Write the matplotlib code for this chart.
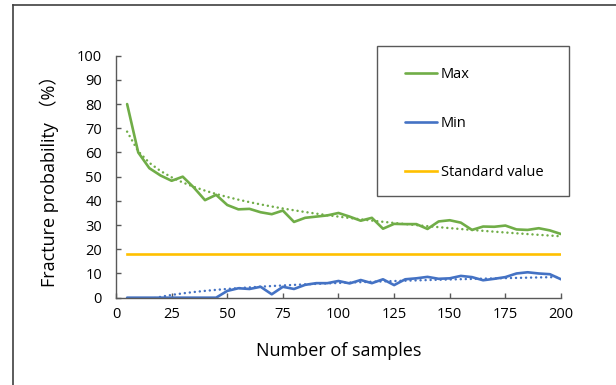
import matplotlib.pyplot as plt
import numpy as np
from matplotlib.lines import Line2D
from matplotlib.patches import Rectangle

plt.rcParams['font.family'] = ['Open Sans', 'Noto Sans CJK SC', 'DejaVu Sans']

samples = list(range(5, 201, 5))
max_prob = [80, 60, 53.5, 50.5, 48.3, 50, 45.5, 40.3, 42.5, 38.3,
            36.5, 36.7, 35.3, 34.5, 36, 31.3, 33, 33.5, 34, 35,
            33.5, 31.8, 33, 28.5, 30.5, 30.4, 30.4, 28.4, 31.5, 32,
            31, 28, 29.4, 29.3, 29.8, 28.2, 28, 28.7, 27.8, 26.3]
min_prob = [0, 0, 0, 0, 0, 0, 0, 0, 0, 2.8,
            3.9, 3.6, 4.5, 1.4, 4.5, 3.6, 5.3, 6, 6, 6.9,
            5.9, 7.3, 6, 7.6, 5.2, 7.6, 8, 8.6, 7.8, 8,
            9, 8.5, 7.2, 7.8, 8.5, 10, 10.5, 10, 9.7, 7.6]
standard_value = 18

GREEN = '#70AD47'
BLUE = '#4472C4'
ORANGE = '#FFC000'
AXIS = '#595959'

x = np.array(samples, dtype=float)

# logarithmic trendlines, fitted to the data like Excel does
def log_trend(y):
    b, a = np.polyfit(np.log(x), np.array(y, dtype=float), 1)
    return a + b * np.log(x)

fig = plt.figure(figsize=(6.16, 3.85), dpi=100)
ax = fig.add_axes([0.1883, 0.2268, 0.7224, 0.6286])

ax.plot(x, max_prob, color=GREEN, lw=1.9, label='Max', solid_capstyle='round')
ax.plot(x, min_prob, color=BLUE, lw=1.9, label='Min', solid_capstyle='round')
ax.plot([x[0], x[-1]], [standard_value, standard_value], color=ORANGE, lw=1.9,
        label='Standard value')
ax.plot(x, log_trend(max_prob), color=GREEN, lw=1.8, ls=(0, (0.01, 2.0)),
        dash_capstyle='round')
ax.plot(x, log_trend(min_prob), color=BLUE, lw=1.8, ls=(0, (0.01, 2.0)),
        dash_capstyle='round')

ax.set_xlim(0, 200)
ax.set_ylim(0, 100)
ax.set_xticks(range(0, 201, 25))
ax.set_yticks(range(0, 101, 10))
for s in ['top', 'right']:
    ax.spines[s].set_visible(False)
for s in ['left', 'bottom']:
    ax.spines[s].set_color(AXIS)
    ax.spines[s].set_linewidth(1.0)
ax.tick_params(direction='in', length=3.6, width=1.0, color=AXIS,
               labelsize=10.5, labelcolor='#000000')
ax.tick_params(axis='y', pad=10)
ax.tick_params(axis='x', pad=7)
ax.set_xlabel('Number of samples', fontsize=13, labelpad=14)
ax.set_ylabel('Fracture probability （%）', fontsize=13, labelpad=13)

# legend box
fig.add_artist(Rectangle((377 / 616, 1 - 196 / 385), 192 / 616, 150 / 385,
                         transform=fig.transFigure, fill=False,
                         edgecolor=AXIS, lw=1.0))
leg = fig.legend(loc='upper left', bbox_to_anchor=(398 / 616, 1 - 60 / 385),
                 frameon=False, fontsize=10.5, handlelength=2.2,
                 handletextpad=0.25, labelspacing=2.33, borderpad=0)

# outer frame lines
fig.add_artist(Line2D([13 / 616, 1], [1 - 5 / 385, 1 - 5 / 385],
                      transform=fig.transFigure, color='#404040', lw=1.2))
fig.add_artist(Line2D([13 / 616, 13 / 616], [0, 1 - 5 / 385],
                      transform=fig.transFigure, color='#404040', lw=1.2))

fig.savefig('out.png', dpi=100)
